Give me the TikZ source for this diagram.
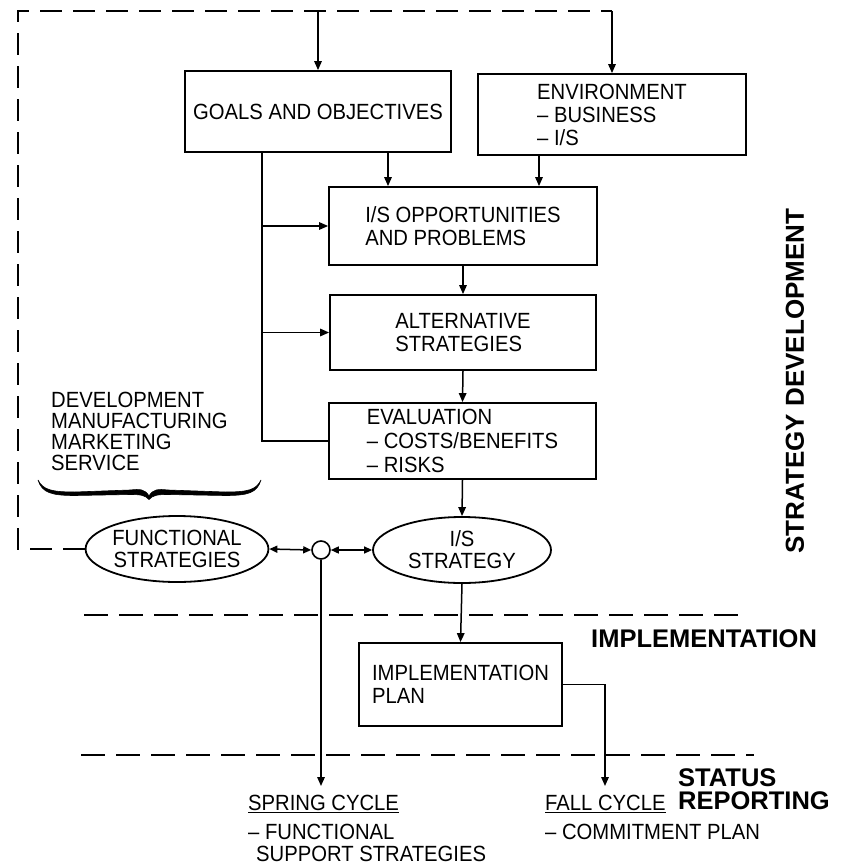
\documentclass[tikz,border=0pt]{standalone}
\usepackage{fontspec}
\setmainfont{Liberation Sans}[FakeStretch=0.92]
\newfontfamily\labelfont{Liberation Sans}
\usetikzlibrary{arrows.meta,shapes.geometric}
\begin{document}
\begin{tikzpicture}[x=1pt,y=-1pt,
  every node/.style={font=\fontsize{22}{23}\selectfont, inner sep=0pt},
  box/.style={draw, line width=1.8pt, minimum width=268pt, align=left},
  oval/.style={draw, ellipse, line width=1.8pt, minimum width=178pt, minimum height=66pt,
    align=center, font=\fontsize{22}{22}\selectfont},
  wire/.style={line width=1.5pt},
  arr/.style={wire, -{Triangle[length=9pt,width=7.5pt]}},
  darr/.style={wire, {Triangle[length=8pt,width=7pt]}-{Triangle[length=8pt,width=7pt]}},
  loopline/.style={line width=1.6pt, dash pattern=on 22pt off 11pt},
  sep/.style={line width=2pt, dash pattern=on 24pt off 11pt},
  stage/.style={font=\labelfont\fontsize{25.5}{27}\selectfont\bfseries},
  plain/.style={font=\fontsize{22}{23}\selectfont},
]
\useasboundingbox[fill=white] (0,0) rectangle (844,864);

% planning boxes
\node[box, minimum width=266pt, minimum height=81pt] (goals) at (318,111.5) {GOALS AND OBJECTIVES};
\node[box, minimum width=268pt, minimum height=81pt] (env) at (612,114.5)
  {ENVIRONMENT\\\textendash{} BUSINESS\\\textendash{} I/S};
\node[box, minimum height=78pt] (opp) at (463,226) {I/S OPPORTUNITIES\\AND PROBLEMS};
\node[box, minimum width=266pt, minimum height=75pt] (alt) at (463,332.5) {ALTERNATIVE\\STRATEGIES};
\node[box, minimum width=267pt, minimum height=76pt, font=\fontsize{22}{24}\selectfont] (eval) at (462.5,441)
  {EVALUATION\\\textendash{} COSTS/BENEFITS\\\textendash{} RISKS};

% strategies
\node[oval] (func) at (177,549) {FUNCTIONAL\\STRATEGIES};
\node[draw, circle, line width=1.6pt, minimum size=18pt] (junc) at (321,550) {};
\node[oval] (iss) at (462,550) {I/S\\STRATEGY};
\node[box, minimum width=203pt, minimum height=83pt] (impl) at (460.5,684.5) {IMPLEMENTATION\\PLAN};

% functional areas with brace
\node[anchor=west, align=left, font=\fontsize{22}{21}\selectfont] (divs) at (51,431)
  {DEVELOPMENT\\MANUFACTURING\\MARKETING\\SERVICE};
\fill[line width=0.6pt, draw] (38,480) .. controls (43,490) and (52,492) .. (75,492)
  -- (130,490) .. controls (140,489) and (145,489) .. (149,496)
  .. controls (153,489) and (158,489) .. (168,490) -- (225,492)
  .. controls (248,492) and (256,490) .. (261,480)
  .. controls (257,493) and (248,495.5) .. (225,495.5) -- (168,494.5)
  .. controls (158,494.5) and (153,495) .. (149,499.5)
  .. controls (145,495) and (140,494.5) .. (130,494.5) -- (75,495.5)
  .. controls (52,495.5) and (42,493) .. (38,480) -- cycle;

% phase labels
\node[font=\labelfont\fontsize{26}{28}\selectfont\bfseries, rotate=90] (stratlab) at (795,381) {STRATEGY DEVELOPMENT};
\node[stage, anchor=base west] (implab) at (591,647) {IMPLEMENTATION};
\node[stage, anchor=base west] (status) at (678,786) {STATUS};
\node[stage, anchor=base west] (report) at (678,809) {REPORTING};

% cycle outputs
\node[plain, anchor=base west] (spring) at (248,810.5) {\underline{SPRING CYCLE}};
\node[plain, anchor=base west] (springa) at (248,839) {\textendash{} FUNCTIONAL};
\node[plain, anchor=base west] (springb) at (256,861) {SUPPORT STRATEGIES};
\node[plain, anchor=base west] (fall) at (545,810.5) {\underline{FALL CYCLE}};
\node[plain, anchor=base west] (falla) at (545,839) {\textendash{} COMMITMENT PLAN};

% phase separators
\draw[sep] (84,615) -- (743,615);
\draw[sep] (81,755) -- (754,755);

% feedback loop
\coordinate (ltl) at (18,11);
\coordinate (ltr) at (612,11);
\draw[loopline] (func.west) -- (func.west -| ltl) -- (ltl) -- (ltr);
\draw[arr] (goals.north |- ltl) -- (goals.north);
\draw[arr] (ltr) -- (env.north);

% flow between boxes
\coordinate (gx) at (388,0);
\coordinate (ex) at (539,0);
\coordinate (sp) at (262,0);
\draw[arr] (goals.south -| gx) -- (opp.north -| gx);
\draw[arr] (env.south -| ex) -- (opp.north -| ex);
\draw[wire] (goals.south -| sp) -- (eval.west -| sp) -- (eval.west);
\draw[arr] (opp.west -| sp) -- (opp.west);
\draw[arr] (alt.west -| sp) -- (alt.west);
\draw[arr] (opp.south) -- (alt.north);
\draw[arr] (alt.south) -- (eval.north);
\draw[arr] (eval.south) -- (iss.north);
\draw[darr] (func.east) -- (junc.west);
\draw[darr] (junc.east) -- (iss.west);
\draw[arr] (iss.south) -- (impl.north);

\coordinate (springend) at (321,786);
\coordinate (fallend) at (605,786);
\draw[arr] (junc.south) -- (springend);
\draw[arr] (impl.east) -| (fallend);
\end{tikzpicture}
\end{document}
